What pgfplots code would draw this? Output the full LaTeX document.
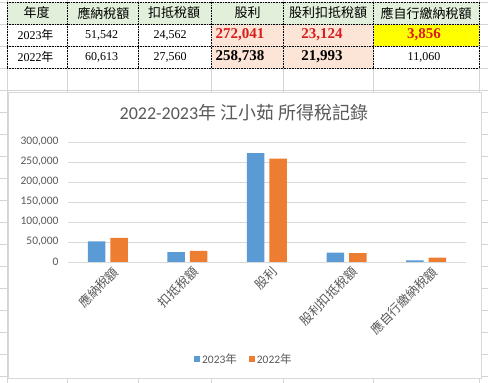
\documentclass[border=0pt]{standalone}
\usepackage{fontspec}
\usepackage{pgfplots}
\usepackage{pgfplotstable}
\pgfplotsset{compat=1.18}
\setmainfont{Carlito}
\newfontfamily\cjk{Noto Sans CJK TC}
\newfontfamily\ser{Liberation Serif}
\definecolor{txt}{HTML}{595959}
\definecolor{blu}{HTML}{5B9BD5}
\definecolor{org}{HTML}{ED7D31}
\definecolor{grd}{HTML}{D9D9D9}
\definecolor{xl}{HTML}{D4D4D4}
\definecolor{hdr}{HTML}{E2EFDA}
\definecolor{pnk}{HTML}{FCE4D6}
\definecolor{ylw}{HTML}{FFFF00}
\definecolor{rd}{HTML}{D81E1E}
\pgfplotstableread{
x y23 y22
0 51542 60613
1 24562 27560
2 272041 258738
3 23124 21993
4 3856 11060
}\taxdata
\begin{document}
\begin{tikzpicture}[x=1pt,y=1pt]
\useasboundingbox (0,0) rectangle (488,383);
\fill[white] (0,0) rectangle (488,383);
% spreadsheet fills
\fill[hdr] (7,359) rectangle (479,381);
\fill[pnk] (211,315) rectangle (373,359);
\fill[ylw] (373,337) rectangle (479,359);
% grid
\foreach \r in {0,...,17} \draw[xl,line width=0.6pt] (0,{381-22*\r}) -- (488,{381-22*\r});
\foreach \c in {7,67,138,211,283,373,479} \draw[xl,line width=0.6pt] (\c,0) -- (\c,383);
% dotted table borders
\foreach \yy in {381,359,337,315} \draw[black,densely dotted,line width=0.6pt] (7,\yy) -- (479,\yy);
\foreach \c in {7,67,138,211,283,373,479} \draw[black,densely dotted,line width=0.6pt] (\c,315) -- (\c,381);
% header text
\begin{scope}[every node/.style={font=\cjk\fontsize{13}{14}\selectfont,text=black,inner sep=0pt}]
\node at (36.5,370) {年度};
\node at (103.5,370) {應納稅額};
\node at (174,370) {扣抵稅額};
\node at (247.5,370) {股利};
\node at (328,370) {股利扣抵稅額};
\node at (426,370) {應自行繳納稅額};
\end{scope}
\begin{scope}[every node/.style={font=\ser\fontsize{12}{13}\selectfont,text=black,inner sep=0pt}]
\node at (35.5,348) {2023{\cjk 年}};
\node at (35.5,326) {2022{\cjk 年}};
\node at (101.5,348) {51,542};
\node at (101.5,326) {60,613};
\node at (170,348) {24,562};
\node at (170,326) {27,560};
\node at (424,326) {11,060};
\end{scope}
\begin{scope}[every node/.style={font=\ser\bfseries\fontsize{15}{16}\selectfont,inner sep=0pt}]
\node[text=rd] at (240,348) {272,041};
\node[text=rd] at (322,348) {23,124};
\node[text=rd] at (424,348) {3,856};
\node[text=black] at (240,326) {258,738};
\node[text=black] at (322,326) {21,993};
\end{scope}
% chart area
\fill[white] (8,5) rectangle (481,291);
\draw[grd,line width=0.8pt] (8,5) rectangle (481,291);
\node[text=txt,font=\fontsize{18}{20}\selectfont] at (244,270) {2022-2023{\cjk 年 江小茹 所得稅記錄}};
\begin{axis}[
  at={(68pt,121pt)}, anchor=south west,
  scale only axis, width=398pt, height=120pt,
  xmin=-0.5, xmax=4.5, ymin=0, ymax=300000,
  enlargelimits=false,
  ybar=5pt, bar width=17.5pt,
  axis x line*=bottom, axis y line*=left,
  x axis line style={grd,line width=0.8pt},
  y axis line style={draw=none},
  major tick length=0pt,
  ymajorgrids, grid style={grd,line width=0.8pt},
  ytick={0,50000,100000,150000,200000,250000,300000},
  scaled y ticks=false,
  /pgf/number format/assume math mode=true,
  yticklabel style={/pgf/number format/fixed,/pgf/number format/1000 sep={,},
    font=\fontsize{11.5}{12}\selectfont, text=txt, anchor=east, xshift=-6pt},
  xtick={0,1,2,3,4},
  xticklabels={應納稅額,扣抵稅額,股利,股利扣抵稅額,應自行繳納稅額},
  xticklabel style={rotate=45, anchor=north east, font=\cjk\fontsize{12.5}{13}\selectfont, text=txt, xshift=4pt, yshift=-2pt},
  legend columns=2,
  legend style={at={(0.442,-0.808)}, anchor=center, draw=none, fill=none,
    font=\fontsize{11.5}{12}\selectfont, text=txt,
    /tikz/every even column/.append style={column sep=10pt}},
  legend image code/.code={\fill[#1] (0pt,-3pt) rectangle (6pt,3pt);},
]
\addplot[fill=blu, draw=none] table[x=x,y=y23] {\taxdata};
\addplot[fill=org, draw=none] table[x=x,y=y22] {\taxdata};
\legend{2023{\cjk 年},2022{\cjk 年}}
\end{axis}
\end{tikzpicture}
\end{document}
